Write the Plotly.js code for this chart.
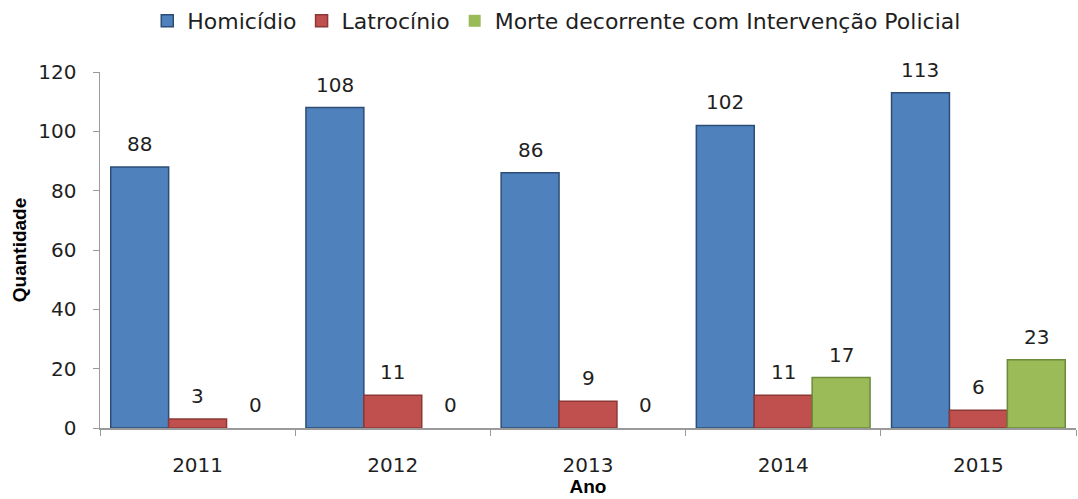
<!DOCTYPE html>
<html>
<head>
<meta charset="utf-8">
<script src="https://cdn.plot.ly/plotly-3.0.1.min.js"></script>
<style>html,body{margin:0;padding:0;background:#fff;}#chart{width:1078px;height:499px;}</style>
</head>
<body>
<div id="chart"></div>
<script>
const years = ['2011', '2012', '2013', '2014', '2015'];
const seriesNames = ['Homicídio', 'Latrocínio', 'Morte decorrente com Intervenção Policial'];
const homicidio = [88, 108, 86, 102, 113];
const latrocinio = [3, 11, 9, 11, 6];
const morte = [0, 0, 0, 17, 23];
const yTicks = [0, 20, 40, 60, 80, 100, 120];

const colors = ['#4F81BD', '#C0504D', '#9BBB59'];
const edges = ['#2c4d75', '#8c3836', '#6b8a3a'];
const allValues = [homicidio, latrocinio, morte];
const bargap = 0.11;
const barW = (1 - bargap) / 3;
const textFont = {family: 'DejaVu Sans, Verdana, sans-serif', size: 20, color: '#1f1f1f'};

const traces = allValues.map((vals, i) => ({
  type: 'bar',
  name: seriesNames[i],
  x: years,
  y: vals,
  marker: {color: colors[i], line: {color: edges[i], width: vals.map(v => v > 0 ? 1.5 : 0)}},
  hoverinfo: 'y'
}));

const annotations = [];
allValues.forEach((vals, i) => {
  vals.forEach((v, j) => {
    annotations.push({
      x: j + (i - 1) * barW,
      y: v,
      xref: 'x', yref: 'y',
      text: String(v),
      showarrow: false,
      yanchor: 'bottom',
      yshift: 9,
      font: textFont
    });
  });
});

const layout = {
  width: 1078, height: 499,
  margin: {l: 100, r: 2, t: 72, b: 71},
  paper_bgcolor: '#fff', plot_bgcolor: '#fff',
  barmode: 'group',
  bargap: bargap,
  bargroupgap: 0,
  showlegend: true,
  legend: {
    orientation: 'h', x: 0.468, xanchor: 'center', xref: 'paper',
    y: 1.0, yref: 'container', yanchor: 'top',
    font: {family: 'DejaVu Sans, Verdana, sans-serif', size: 22, color: '#1f1f1f'},
    itemwidth: 30
  },
  xaxis: {
    type: 'category',
    tickson: 'boundaries',
    ticks: 'outside', ticklen: 6, tickcolor: '#9a9a9a',
    ticklabelstandoff: 18,
    showline: true, linecolor: '#9a9a9a', linewidth: 1.5,
    showgrid: false, zeroline: false,
    tickfont: textFont,
    title: {text: '<b>Ano</b>', standoff: 4, font: {family: 'Liberation Sans, Arial, sans-serif', size: 19, color: '#000'}},
    range: [-0.5, 4.5]
  },
  yaxis: {
    range: [0, 120],
    tickvals: yTicks,
    ticks: 'outside', ticklen: 6, tickcolor: '#9a9a9a',
    ticklabelstandoff: 12,
    showline: true, linecolor: '#9a9a9a', linewidth: 1.5,
    showgrid: false, zeroline: false,
    tickfont: textFont,
    title: {text: '<b>Quantidade</b>', standoff: 6, font: {family: 'Liberation Sans, Arial, sans-serif', size: 19, color: '#000'}}
  },
  annotations: annotations
};

Plotly.newPlot('chart', traces, layout, {displayModeBar: false, staticPlot: true});
</script>
</body>
</html>
